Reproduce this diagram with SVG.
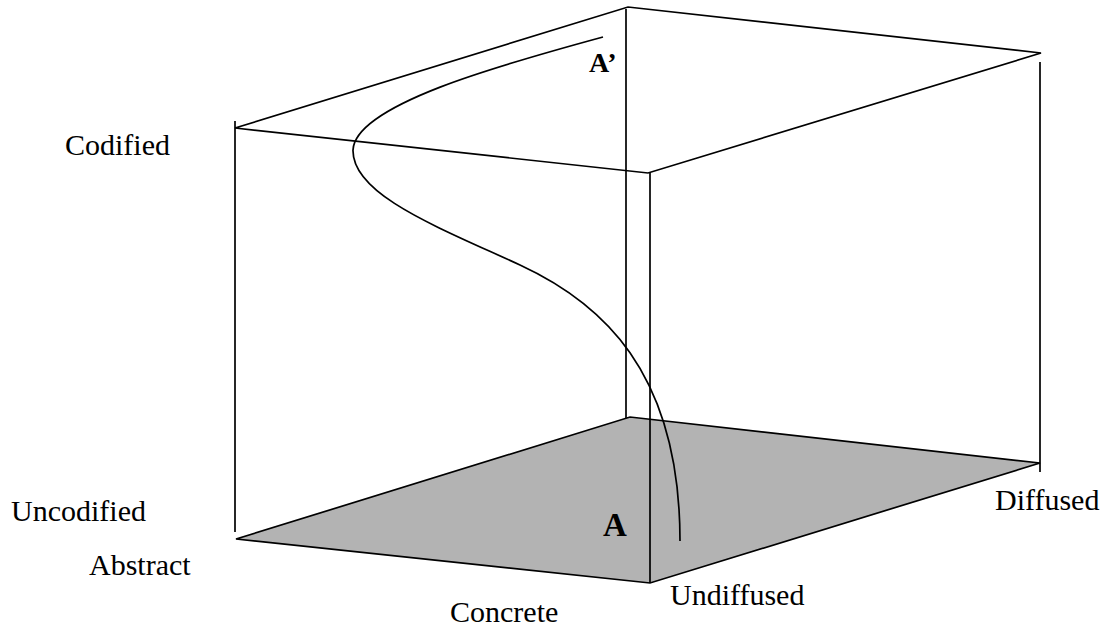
<svg xmlns="http://www.w3.org/2000/svg" width="1115" height="637" viewBox="0 0 1115 637">
<style>
.ln{fill:none;stroke:#000;stroke-width:1.7;stroke-linejoin:miter}
.lbl{font-family:"Liberation Serif","Times New Roman",serif;font-size:30px;fill:#000}
.pt{font-family:"Liberation Serif","Times New Roman",serif;font-weight:bold;fill:#000}
</style>
<rect width="1115" height="637" fill="#fff"/>
<g id="cube">
<polygon id="bottom-face" points="236,539 630,417 1040,463 650,583" fill="#b3b3b3" stroke="#000" stroke-width="1.7"/>
<polygon id="top-face" class="ln" points="235,128 628,7 1041,53 648,173"/>
<line class="ln" x1="235" y1="121" x2="235" y2="532"/>
<line class="ln" x1="626" y1="9" x2="626" y2="418"/>
<line class="ln" x1="650" y1="173" x2="650" y2="583"/>
<line class="ln" x1="1040" y1="62" x2="1040" y2="472"/>
</g>
<g id="connectors">
<path id="curve" class="ln" d="M603,37 C500,65 355,105 353,150 C352,195 440,228 520,265 C600,302 680,370 680,541"/>
</g>
<g id="labels">
<text class="lbl" x="65" y="155">Codified</text>
<text class="lbl" x="11" y="521">Uncodified</text>
<text class="lbl" x="89" y="575">Abstract</text>
<text class="lbl" x="450" y="622">Concrete</text>
<text class="lbl" x="670" y="605">Undiffused</text>
<text class="lbl" x="995" y="510">Diffused</text>
<text class="pt" x="603" y="536" font-size="33">A</text>
<text class="pt" x="589" y="72" font-size="28">A’</text>
</g>
</svg>
